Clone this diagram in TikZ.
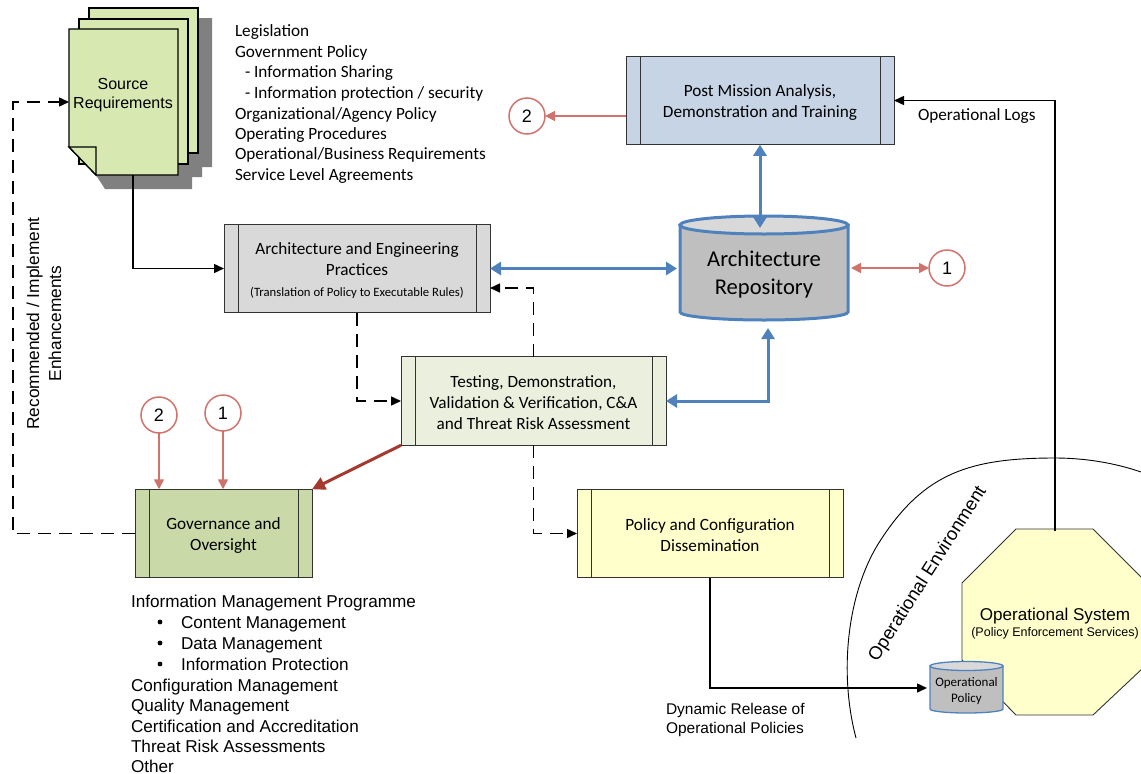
\documentclass[tikz,border=0pt]{standalone}
\usepackage{fontspec}
\setmainfont{Carlito}
\newfontfamily\arialf{Liberation Sans}
\usetikzlibrary{arrows.meta,calc}
\definecolor{blueA}{HTML}{4F81BD}
\definecolor{redA}{HTML}{D0736C}
\definecolor{redD}{HTML}{A5382F}
\definecolor{srcG}{HTML}{D7E8B0}
\newcommand\tallrow{\rule{0pt}{15pt}}
\tikzset{
  x=1pt,y=-1pt,
  every node/.style={inner sep=0pt,outer sep=0pt},
  procbox/.style={draw=black!80,line width=0.9pt,minimum width=#1,minimum height=88.5pt,align=center,
    path picture={
      \draw[line width=0.9pt,black!80] ([xshift=14pt]path picture bounding box.north west) -- ([xshift=14pt]path picture bounding box.south west);
      \draw[line width=0.9pt,black!80] ([xshift=-14pt]path picture bounding box.north east) -- ([xshift=-14pt]path picture bounding box.south east);
    }},
  boxfont/.style={font=\fontsize{17.2}{21}\selectfont},
  reftag/.style={circle,draw=redA,line width=1.5pt,fill=white,minimum size=36pt,font=\arialf\fontsize{18}{20}\selectfont},
  blueline/.style={draw=blueA,line width=3pt,{Triangle[length=11pt,width=13pt]}-{Triangle[length=11pt,width=13pt]}},
  redline/.style={draw=redA,line width=1.5pt,-{Triangle[length=10pt,width=10pt]}},
  redboth/.style={draw=redA,line width=1.5pt,{Triangle[length=10pt,width=10pt]}-{Triangle[length=10pt,width=10pt]}},
  blk/.style={draw=black,line width=1.5pt,-{Triangle[length=10pt,width=9pt]}},
  blkdash/.style={blk,dash pattern=on 13pt off 8pt},
  listC/.style={anchor=base west,font=\fontsize{17.2}{20}\selectfont},
  listA/.style={anchor=base west,font=\arialf\fontsize{17.15}{20}\selectfont},
  doc/.style={draw=black,line width=1.3pt,fill=srcG},
}
\begin{document}
\begin{tikzpicture}
\useasboundingbox (0,0) rectangle (1141,774);
% operational environment arc
\draw[line width=0.9pt] (856,738) .. controls (838,670) and (848,588) .. (882,538) .. controls (925,473) and (970,458) .. (1055,458) .. controls (1085,458) and (1115,463) .. (1141,472);
% documents
\fill[black!50] (198,18) -- (212,18) -- (212,167) -- (202,167) -- (202,177) -- (192,177) -- (192,189) -- (105,189) -- (96,175) -- cycle;
\draw[doc] (89,8) rectangle (198,153);
\draw[doc] (79,19) rectangle (188,164);
\draw[doc] (69,29) -- (178,29) -- (178,175) -- (96,175) -- (69,147) -- cycle;
\draw[doc] (69,147) -- (96,147) -- (96,175) -- cycle;
\node[minimum width=109pt,minimum height=146pt] (src) at (123.5,102) {};
\node[align=center,font=\arialf\fontsize{16}{19}\selectfont] (srcT) at (123,95) {Source\\Requirements};
% list
\node[listC] (l1) at (235,36.5) {Legislation};
\node[listC] (l2) at (235,57.5) {Government Policy};
\node[listC] (l3) at (245,77.5) {- Information Sharing};
\node[listC] (l4) at (245,98.5) {- Information protection / security};
\node[listC] (l5) at (235,119.5) {Organizational/Agency Policy};
\node[listC] (l6) at (235,139) {Operating Procedures};
\node[listC] (l7) at (235,159.5) {Operational/Business Requirements};
\node[listC] (l8) at (235,180) {Service Level Agreements};
% process boxes
\node[procbox=268pt,fill={rgb,255:red,198;green,212;blue,230},boxfont] (post) at (760,100.5) {\tallrow Post Mission Analysis,\\Demonstration and Training};
\node[procbox=266pt,fill={rgb,255:red,217;green,217;blue,217},boxfont] (arch) at (357,268.5) {\rule{0pt}{17pt}Architecture and Engineering\\Practices\\{\fontsize{12.7}{14}\selectfont (Translation of Policy to Executable Rules)}};
\node[procbox=265pt,fill={rgb,255:red,235;green,240;blue,222},boxfont] (test) at (533.5,401) {\tallrow Testing, Demonstration,\\Validation \& Verification, C\&A\\and Threat Risk Assessment};
\node[procbox=177pt,fill={rgb,255:red,201;green,217;blue,168},boxfont] (gov) at (223.5,533.5) {\tallrow Governance and\\Oversight};
\node[procbox=266pt,fill={rgb,255:red,255;green,255;blue,204},boxfont] (pol) at (710,533.5) {\tallrow Policy and Configuration\\Dissemination};
% repository
\path[draw=blueA,line width=3pt,fill={rgb,255:red,191;green,191;blue,191}] (680,225) -- (680,312) arc[start angle=180,end angle=360,x radius=84pt,y radius=8pt] -- (848,225) -- cycle;
\draw[blueA,line width=3pt,fill={rgb,255:red,217;green,217;blue,217}] (764,225) ellipse[x radius=84pt,y radius=9pt];
\node[minimum width=168pt,minimum height=104pt,outer sep=3pt,align=center,font=\fontsize{22.6}{28}\selectfont] (repo) at (764,273) {\rule{0pt}{18pt}Architecture\\Repository};
\coordinate (repotop) at (760,228);
% reference tags
\node[reftag] (tagR) at (947,268) {1};
\node[reftag] (tagP) at (527,116) {2};
\node[reftag] (tagG2) at (159,415) {2};
\node[reftag] (tagG1) at (223,413) {1};
% octagon
\path[draw=black!80,line width=0.9pt,fill={rgb,255:red,255;green,255;blue,204}] (1016,529) -- (1093,529) -- (1143,579) -- (1143,668) -- (1093,715) -- (1016,715) -- (962,660) -- (962,583) -- cycle;
\node[minimum width=190pt,minimum height=186pt,align=center,font=\arialf\fontsize{17.1}{19}\selectfont] (ops) at (1055,624) {Operational System\\[-3pt]{\fontsize{12.5}{14}\selectfont (Policy Enforcement Services)}};
% small cylinder
\path[draw=blueA,line width=1.3pt,fill={rgb,255:red,191;green,191;blue,191}] (930,666) -- (930,709) arc[start angle=180,end angle=360,x radius=36.5pt,y radius=4pt] -- (1003,666) -- cycle;
\draw[blueA,line width=1.3pt,fill={rgb,255:red,217;green,217;blue,217}] (966.5,666) ellipse[x radius=36.5pt,y radius=4.5pt];
\node[minimum width=73pt,minimum height=46pt,outer sep=3pt,align=center,font=\fontsize{13}{16}\selectfont] (opol) at (966.5,691) {Operational\\Policy};
% connectors
\draw[blkdash] (gov.west) -| (13,300) |- (src.west);
\draw[blk] ([xshift=9.5pt]src.south) |- (arch.west);
\draw[blkdash] (arch.south) |- (test.west);
\draw[blkdash] (test.north) |- ([yshift=-19.5pt]arch.east);
\draw[blkdash] (test.south) |- (pol.west);
\draw[blk] (pol.south) |- ([yshift=3pt]opol.west);
\draw[blk] (ops.north) |- (post.east);
\draw[blueline] (arch.east) -- (arch.east -| repo.west);
\draw[blueline] (post.south) -- (repotop);
\draw[blueline] (test.east) -| ([xshift=4pt]repo.south);
\draw[redboth] (tagR.west -| repo.east) -- (tagR.west);
\draw[redline] (tagP.east -| post.west) -- (tagP.east);
\draw[redline] (tagG2.south) -- (tagG2.south |- gov.north);
\draw[redline] (tagG1.south) -- (tagG1.south |- gov.north);
\draw[draw=redD,line width=3pt,-{Triangle[length=13pt,width=13pt]}] (test.south west) -- (gov.north east);
% labels
\node[anchor=west,font=\fontsize{17.2}{20}\selectfont] (lbLogs) at (918,116) {Operational Logs};
\node[anchor=north west,align=left,font=\arialf\fontsize{15.5}{19}\selectfont] (lbDyn) at (666,703) {Dynamic Release of\\Operational Policies};
\node[rotate=90,align=center,font=\arialf\fontsize{17.3}{22}\selectfont] (lbRec) at (44,323.5) {Recommended / Implement\\Enhancements};
\node[rotate=57.5,font=\arialf\fontsize{18.4}{22}\selectfont] (lbEnv) at (928,574) {Operational Environment};
% governance list
\node[listA] (g1) at (131,607) {Information Management Programme};
\node[listA] (g2) at (181,628) {Content Management};
\node[listA] (g3) at (181,649) {Data Management};
\node[listA] (g4) at (181,670) {Information Protection};
\fill (160,622) circle (2.4pt);
\fill (160,643) circle (2.4pt);
\fill (160,664) circle (2.4pt);
\node[listA] (g5) at (131,691) {Configuration Management};
\node[listA] (g6) at (131,711) {Quality Management};
\node[listA] (g7) at (131,732) {Certification and Accreditation};
\node[listA] (g8) at (131,752) {Threat Risk Assessments};
\node[listA] (g9) at (131,772.5) {Other};
\end{tikzpicture}
\end{document}
